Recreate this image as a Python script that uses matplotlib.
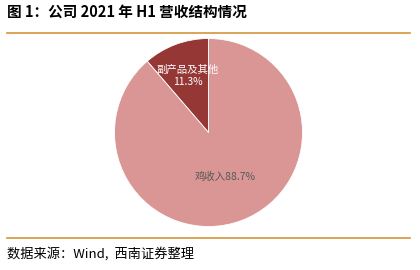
import numpy as np
import matplotlib
matplotlib.use("Agg")
import matplotlib.pyplot as plt
from matplotlib.lines import Line2D

plt.rcParams['font.family'] = ['Noto Sans CJK SC', 'DejaVu Sans']

categories = ['副产品及其他', '鸡收入']
values = [11.3, 88.7]
colors = ['#953735', '#D99694']
label_colors = ['white', '#595959']
label_dist = [0.64, 0.5]

W, H = 420, 270
fig = plt.figure(figsize=(W / 100, H / 100), dpi=100)

cx, cy, r = 208.5, 132.5, 94
ax = fig.add_axes([(cx - r) / W, (H - cy - r) / H, 2 * r / W, 2 * r / H])
wedges, _ = ax.pie(values, colors=colors, startangle=90, counterclock=True,
                   radius=1, wedgeprops=dict(edgecolor='white', linewidth=0.6))
ax.set_xlim(-1, 1)
ax.set_ylim(-1, 1)
ax.set_aspect('equal')
ax.axis('off')

for w, cat, v, lc, d in zip(wedges, categories, values, label_colors, label_dist):
    ang = np.deg2rad((w.theta1 + w.theta2) / 2)
    x, y = d * np.cos(ang), d * np.sin(ang)
    if v < 50:
        txt = f'{cat}\n{v:.1f}%'
    else:
        txt = f'{cat}{v:.1f}%'
    ax.text(x, y, txt, ha='center', va='center', color=lc, fontsize=7.5,
            linespacing=1.25)

# title and decorations
fig.text(7 / W, 1 - 12 / H, '图 1：公司 2021 年 H1 营收结构情况', fontsize=10.5,
         fontweight='bold', ha='left', va='center', color='black')
fig.add_artist(Line2D([7 / W, 410 / W], [1 - 33 / H, 1 - 33 / H],
                      color='#D4943A', linewidth=1.2, transform=fig.transFigure))
fig.add_artist(Line2D([7 / W, 410 / W], [1 - 238 / H, 1 - 238 / H],
                      color='#D4943A', linewidth=1.2, transform=fig.transFigure))
fig.text(7 / W, 1 - 254 / H, '数据来源：Wind,  西南证券整理', fontsize=9.5,
         style='italic', ha='left', va='center', color='black')

fig.savefig('out.png', dpi=100)
